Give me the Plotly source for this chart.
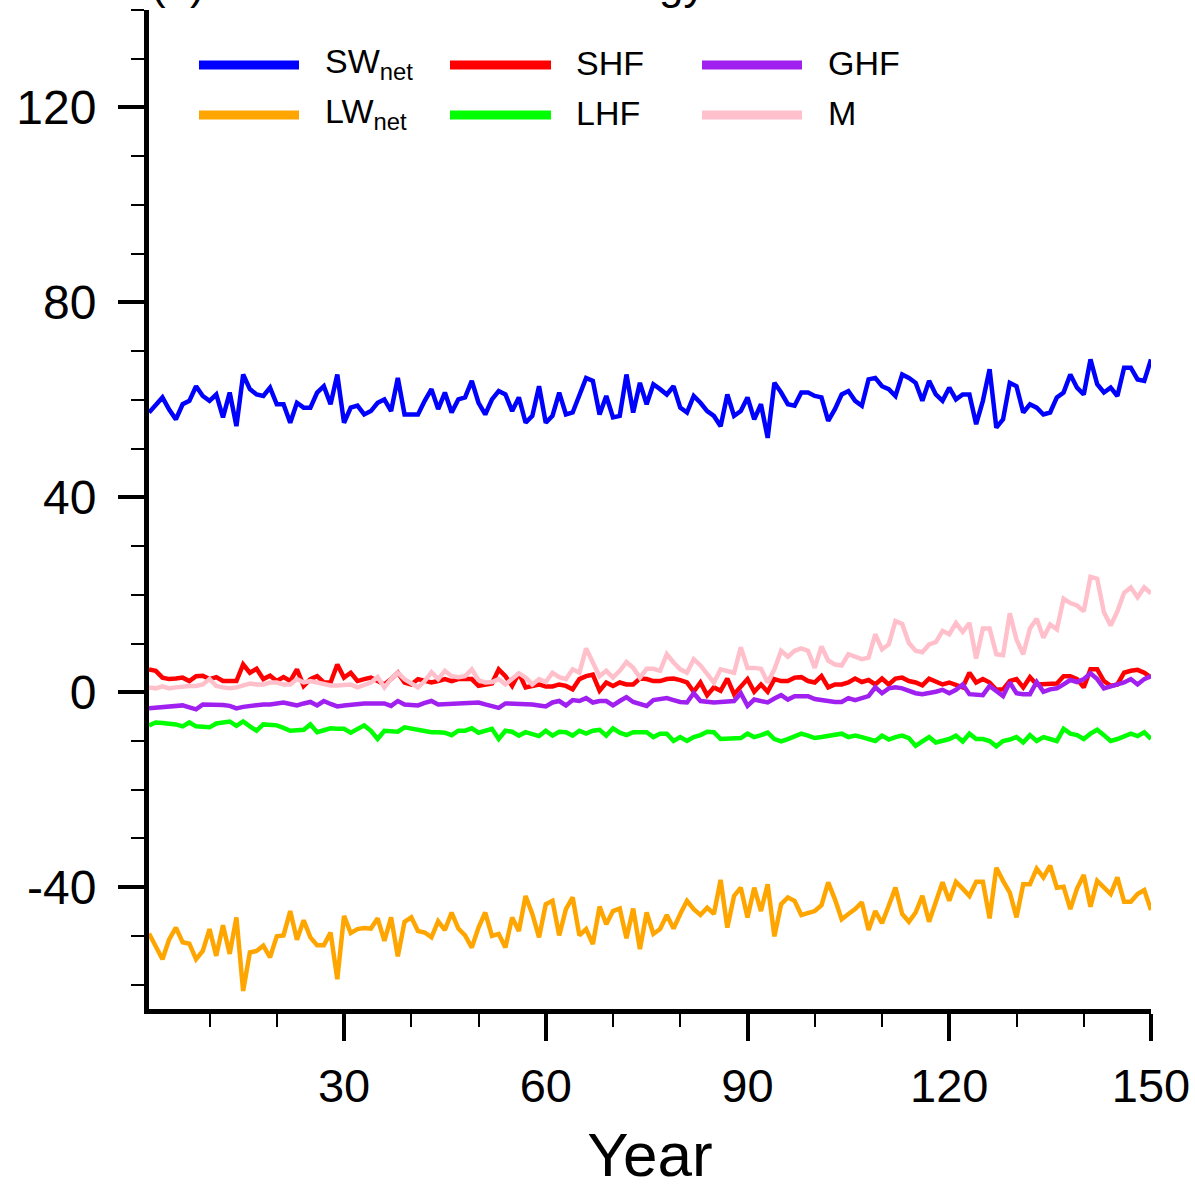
import plotly.graph_objects as go

years = list(range(1, 151))

sw_net = [57.4, 59.0, 60.5, 58.0, 56.0, 59.1, 59.8, 62.8, 60.8, 59.8,
          61.1, 56.4, 61.5, 54.6, 65.2, 62.2, 61.1, 60.8, 62.5, 59.1,
          59.1, 55.3, 59.4, 58.4, 58.4, 61.5, 62.8, 59.1, 65.2, 55.3,
          58.4, 58.8, 57.0, 57.7, 59.4, 60.1, 57.7, 64.5, 57.0, 57.0,
          57.0, 59.8, 62.2, 58.1, 61.5, 57.4, 60.1, 60.5, 63.9, 59.4,
          57.0, 60.1, 61.8, 61.1, 57.7, 60.5, 55.3, 56.7, 62.8, 55.3,
          56.7, 61.5, 57.0, 57.4, 60.8, 64.5, 63.9, 57.0, 60.8, 56.4,
          56.7, 65.2, 57.4, 63.5, 59.1, 63.2, 62.2, 61.1, 62.8, 58.4,
          57.4, 60.8, 59.4, 57.7, 56.7, 54.6, 61.1, 56.7, 57.7, 60.5,
          56.0, 59.1, 52.2, 63.5, 61.5, 59.1, 58.8, 61.5, 61.5, 60.8,
          60.5, 55.7, 58.1, 61.1, 61.8, 59.8, 58.8, 64.2, 64.5, 62.8,
          62.2, 60.8, 65.2, 64.5, 63.5, 59.8, 63.9, 61.1, 59.8, 62.5,
          60.1, 61.1, 61.1, 55.0, 59.8, 66.3, 54.3, 56.0, 63.5, 62.8,
          57.4, 59.1, 58.4, 57.0, 57.4, 60.5, 61.5, 65.2, 62.5, 61.1,
          68.3, 63.2, 61.5, 62.5, 60.8, 66.6, 66.6, 64.2, 63.9, 68.3]

lw_net = [-49.5, -52.0, -54.8, -50.7, -48.3, -51.3, -51.6, -54.8, -53.1, -48.6,
          -54.1, -47.8, -53.7, -46.2, -61.3, -53.4, -53.1, -52.0, -54.4, -50.1,
          -49.9, -44.9, -50.8, -46.8, -50.3, -51.9, -51.9, -49.3, -58.9, -45.9,
          -49.4, -48.6, -48.4, -48.5, -46.4, -51.0, -46.2, -54.2, -47.1, -46.2,
          -49.0, -49.3, -50.3, -47.0, -48.8, -45.2, -48.5, -49.9, -52.4, -48.3,
          -45.2, -50.0, -49.6, -52.4, -46.2, -49.0, -41.8, -45.5, -50.3, -43.5,
          -42.8, -49.9, -44.5, -42.1, -49.9, -48.6, -51.7, -44.0, -47.6, -44.9,
          -44.4, -50.5, -44.4, -52.7, -45.2, -49.6, -48.6, -45.7, -48.5, -45.5,
          -42.8, -44.5, -45.7, -44.2, -45.5, -38.5, -48.3, -41.8, -40.1, -46.2,
          -40.1, -44.9, -39.4, -50.1, -43.5, -42.1, -42.8, -45.7, -45.2, -44.9,
          -43.7, -39.0, -42.5, -46.6, -45.5, -44.5, -43.1, -48.8, -44.9, -47.4,
          -43.8, -40.1, -45.5, -47.1, -45.2, -41.8, -47.1, -42.8, -39.0, -42.8,
          -38.9, -40.3, -41.8, -38.9, -38.9, -46.4, -36.0, -38.7, -41.1, -46.2,
          -39.4, -39.4, -36.2, -38.0, -35.6, -40.1, -39.9, -44.5, -40.3, -37.5,
          -44.0, -38.7, -40.1, -41.4, -38.0, -43.0, -43.0, -41.4, -40.6, -44.7]

shf = [4.7, 4.4, 3.0, 2.7, 2.8, 3.0, 2.3, 3.3, 3.4, 2.7,
       3.1, 2.3, 2.3, 2.3, 5.7, 4.0, 4.8, 2.7, 3.4, 2.3,
       3.1, 2.3, 4.7, 1.3, 2.7, 3.3, 2.0, 2.0, 5.7, 3.0,
       4.0, 2.3, 2.7, 3.0, 2.3, 1.6, 2.7, 4.0, 2.0, 1.6,
       2.7, 2.3, 2.0, 2.3, 2.7, 2.3, 2.7, 2.7, 2.7, 1.3,
       1.6, 1.8, 4.7, 3.3, 1.3, 3.9, 1.0, 1.3, 1.6, 1.2,
       1.2, 1.6, 1.3, 0.6, 2.7, 3.3, 3.6, 0.3, 2.0, 1.3,
       2.0, 1.6, 1.6, 2.8, 2.7, 2.3, 2.3, 2.7, 2.8, 2.5,
       2.0, 0.1, 2.0, -0.6, 1.0, 0.3, 2.8, -0.4, 1.3, 2.7,
       0.1, 1.6, 0.1, 2.7, 2.3, 2.3, 3.0, 3.1, 2.3, 2.0,
       3.3, 1.0, 1.6, 1.6, 2.0, 2.8, 2.1, 2.5, 1.6, 2.8,
       1.6, 2.8, 3.0, 2.3, 2.0, 1.4, 2.8, 2.3, 1.6, 2.0,
       1.6, 1.0, 4.0, 2.0, 2.7, 2.0, 0.5, 0.6, 2.3, 2.7,
       1.0, 3.1, 1.6, 1.6, 1.6, 1.8, 3.3, 3.3, 2.7, 1.0,
       4.7, 4.7, 2.3, 1.3, 1.6, 4.0, 4.4, 4.6, 4.0, 3.0]

lhf = [-6.8, -6.2, -6.3, -6.4, -6.6, -7.0, -6.2, -7.0, -7.1, -7.2,
       -6.4, -6.2, -6.0, -6.9, -6.0, -7.0, -7.9, -6.6, -6.7, -6.8,
       -7.3, -7.9, -7.8, -7.7, -6.6, -8.2, -7.8, -7.4, -7.5, -7.5,
       -8.3, -7.5, -6.8, -7.9, -9.6, -7.9, -8.0, -8.1, -7.2, -7.5,
       -7.7, -8.0, -8.2, -8.2, -8.3, -8.8, -7.9, -7.9, -7.4, -8.3,
       -7.9, -7.5, -9.6, -7.9, -8.1, -8.9, -8.2, -8.5, -9.0, -7.9,
       -8.9, -8.1, -8.2, -8.9, -7.9, -8.5, -7.9, -7.7, -8.9, -7.4,
       -8.3, -8.8, -8.2, -8.2, -8.2, -9.2, -8.5, -8.5, -10.0, -9.2,
       -10.0, -9.2, -8.8, -8.1, -8.2, -9.6, -9.6, -9.4, -9.4, -8.5,
       -9.2, -8.8, -8.3, -9.6, -10.1, -9.6, -9.0, -8.5, -8.9, -9.4,
       -9.2, -8.9, -8.8, -8.5, -9.2, -8.9, -9.2, -9.6, -10.0, -8.9,
       -9.7, -9.2, -8.9, -9.4, -11.0, -10.1, -9.2, -10.3, -10.0, -9.6,
       -8.9, -10.1, -8.5, -9.6, -9.6, -10.0, -11.1, -10.0, -9.7, -9.2,
       -10.3, -8.8, -10.0, -9.2, -9.6, -10.0, -7.5, -8.5, -8.8, -9.6,
       -8.5, -7.7, -8.8, -10.0, -9.6, -9.0, -8.5, -9.0, -8.2, -9.6]

ghf = [-3.3, -3.2, -3.0, -2.8, -2.7, -2.7, -3.1, -3.5, -2.5, -2.5,
       -2.5, -2.6, -2.8, -3.3, -3.0, -2.8, -2.5, -2.5, -2.5, -2.3,
       -2.1, -2.4, -2.7, -2.3, -2.0, -2.7, -1.8, -2.4, -2.9, -2.7,
       -2.5, -2.4, -2.3, -2.3, -2.3, -2.3, -2.8, -1.8, -2.5, -2.6,
       -2.7, -2.2, -1.8, -2.5, -2.4, -2.3, -2.3, -2.2, -2.1, -2.1,
       -2.5, -2.9, -3.2, -2.3, -2.3, -2.3, -2.4, -2.5, -2.7, -2.9,
       -2.1, -1.8, -2.7, -1.6, -1.8, -1.2, -2.1, -1.8, -1.8, -2.7,
       -1.8, -1.0, -2.0, -2.4, -2.8, -1.6, -1.4, -1.2, -1.6, -2.0,
       -2.1, -0.2, -1.8, -2.0, -2.1, -2.0, -1.8, -1.8, -0.2, -2.8,
       -1.5, -1.8, -2.1, -1.3, -0.6, -1.5, -0.8, -0.8, -0.8, -1.4,
       -1.5, -1.8, -2.0, -2.0, -1.2, -1.6, -1.2, -0.8, 1.0, -0.2,
       0.8, 1.0, 0.8, 0.3, -0.2, -0.4, -0.2, 0.1, 0.5, -0.2,
       0.5, 1.6, -0.4, -0.6, -0.6, 1.3, 0.3, -0.8, 2.0, -0.2,
       -0.4, -0.4, 2.1, 0.1, 0.6, 0.8, 1.6, 2.5, 2.1, 2.7,
       3.9, 2.7, 0.8, 1.3, 1.6, 2.0, 2.7, 1.6, 2.7, 3.3]

m_melt = [1.0, 0.8, 1.2, 0.8, 1.0, 1.2, 1.3, 1.3, 1.6, 2.7,
          1.3, 1.0, 0.8, 1.0, 1.3, 1.8, 1.6, 1.6, 2.0, 2.0,
          1.6, 1.6, 2.7, 2.0, 2.3, 2.0, 1.6, 1.4, 1.4, 1.4,
          1.6, 1.0, 1.4, 2.0, 3.1, 1.0, 2.7, 4.0, 2.7, 1.8,
          1.0, 2.3, 4.1, 2.7, 4.4, 3.3, 3.1, 3.3, 4.7, 2.5,
          2.0, 2.1, 2.7, 1.6, 2.7, 3.9, 3.0, 1.6, 2.7, 2.1,
          4.0, 3.1, 2.7, 4.7, 4.0, 9.0, 6.1, 3.3, 4.4, 3.0,
          4.4, 6.2, 5.0, 3.0, 4.8, 4.8, 4.4, 7.8, 6.1, 4.7,
          4.0, 6.8, 5.5, 3.6, 2.0, 4.7, 4.4, 4.0, 9.2, 5.0,
          5.0, 4.8, 2.0, 4.7, 8.5, 7.3, 8.5, 9.0, 8.5, 5.0,
          9.4, 6.5, 5.7, 5.5, 7.8, 7.3, 6.8, 7.1, 11.9, 8.8,
          9.8, 14.6, 14.0, 10.1, 8.5, 8.2, 9.8, 10.3, 12.6, 11.9,
          14.2, 12.4, 14.2, 6.9, 13.1, 13.1, 7.8, 7.6, 16.2, 10.8,
          7.8, 13.1, 15.1, 11.2, 13.9, 12.9, 19.2, 18.3, 17.8, 16.6,
          23.7, 23.3, 16.4, 13.7, 16.6, 20.4, 21.5, 19.5, 21.5, 20.3]

series_names = ["SW<sub>net</sub>", "LW<sub>net</sub>", "SHF", "LHF", "GHF", "M"]
series_values = [sw_net, lw_net, shf, lhf, ghf, m_melt]
series_colors = ["#0000FF", "#FFA500", "#FF0000", "#00FF00", "#A020F0", "#FFC0CB"]

x_ticks = [30, 60, 90, 120, 150]
y_ticks = [-40, 0, 40, 80, 120]

title_left = "(a)"
title_center = "Surface energy balance"

FONT = "Liberation Sans, Arial, Helvetica, sans-serif"

fig = go.Figure()
for name, vals, col in zip(series_names, series_values, series_colors):
    fig.add_trace(go.Scatter(x=years, y=vals, mode="lines", name=name,
                             line=dict(color=col, width=4.5),
                             hoverinfo="skip", showlegend=False))

# Manual legend (3 columns x 2 rows), positioned in paper coordinates
L, R, T, B = 149, 1151, 10, 1009
W, H = R - L, B - T
def px(xp):
    return (xp - L) / W
def py(yp):
    return (B - yp) / H

legend_layout = [  # (series index, line x0, line x1, label x, row y)
    (0, 199, 299, 323, 65),
    (1, 199, 299, 323, 115),
    (2, 450, 551, 574, 65),
    (3, 450, 551, 574, 115),
    (4, 702, 802, 826, 65),
    (5, 702, 802, 826, 115),
]
for idx, x0, x1, lx, ry in legend_layout:
    fig.add_shape(type="line", xref="paper", yref="paper",
                  x0=px(x0), x1=px(x1), y0=py(ry), y1=py(ry),
                  line=dict(color=series_colors[idx], width=9))
    fig.add_annotation(xref="paper", yref="paper", x=px(lx), y=py(ry - 2),
                       text=series_names[idx], showarrow=False,
                       xanchor="left", yanchor="middle",
                       font=dict(family=FONT, size=34, color="black"))

# Panel title strings (largely above the visible page, as in the source image)
fig.add_annotation(xref="paper", yref="paper", x=0.0, y=1.0, yanchor="bottom",
                   xanchor="left", text=title_left, showarrow=False,
                   font=dict(family=FONT, size=44, color="black"))
fig.add_annotation(xref="paper", yref="paper", x=0.49, y=1.0, yanchor="bottom",
                   xanchor="center", text=title_center, showarrow=False,
                   font=dict(family=FONT, size=44, color="black"))

fig.update_layout(
    width=1195, height=1189,
    margin=dict(l=L, r=1195 - R, t=T, b=1189 - B, autoexpand=False),
    paper_bgcolor="white", plot_bgcolor="white",
    font=dict(family=FONT, color="black"),
    showlegend=False, hovermode=False,
)
fig.update_xaxes(
    range=[1, 150], showgrid=False, zeroline=False, automargin=False,
    showline=True, linecolor="black", linewidth=5,
    tickmode="array", tickvals=x_ticks, ticktext=[str(v) for v in x_ticks],
    ticks="outside", ticklen=27, tickwidth=4, tickcolor="black",
    ticklabelstandoff=5,
    minor=dict(dtick=10, tick0=0, ticks="outside", ticklen=13, tickwidth=2, tickcolor="black"),
    tickfont=dict(family=FONT, size=47, color="black"),
    title=dict(text="Year", font=dict(family=FONT, size=62, color="black"), standoff=33),
)
fig.update_yaxes(
    range=[-65, 140], showgrid=False, zeroline=False, automargin=False,
    showline=True, linecolor="black", linewidth=5,
    tickmode="array", tickvals=y_ticks, ticktext=[str(v) for v in y_ticks],
    ticks="outside", ticklen=26, tickwidth=4, tickcolor="black",
    ticklabelstandoff=12,
    minor=dict(dtick=10, tick0=0, ticks="outside", ticklen=13, tickwidth=2, tickcolor="black"),
    tickfont=dict(family=FONT, size=48, color="black"),
)

fig.write_html("out.html")
